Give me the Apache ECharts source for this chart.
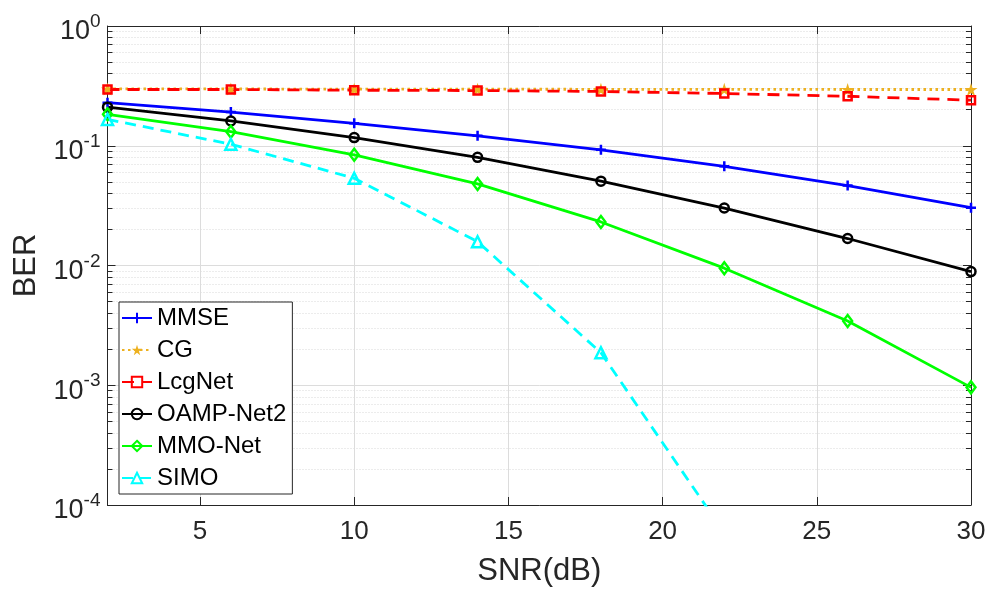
<!DOCTYPE html>
<html>
<head>
<meta charset="utf-8">
<script src="https://cdn.jsdelivr.net/npm/echarts@6/dist/echarts.min.js"></script>
<style>
  html, body { margin: 0; padding: 0; background: #ffffff; }
  #chart { width: 992px; height: 592px; }
</style>
</head>
<body>
<div id="chart"></div>
<script>
// SNR sweep (dB) and bit error rate of each detector
const snr = [2, 6, 10, 14, 18, 22, 26, 30];
const mmse = [0.229, 0.191, 0.154, 0.121, 0.0925, 0.0674, 0.0465, 0.0304];
const cg = [0.298, 0.298, 0.297, 0.297, 0.296, 0.296, 0.295, 0.295];
const lcgNet = [0.295, 0.295, 0.291, 0.289, 0.284, 0.273, 0.259, 0.240];
const oampNet2 = [0.210, 0.161, 0.117, 0.080, 0.0506, 0.0302, 0.0168, 0.0089];
const mmoNet = [0.183, 0.131, 0.084, 0.048, 0.0231, 0.0095, 0.00344, 0.00096];
const simo = [0.166, 0.103, 0.0535, 0.0158, 0.00187, 0.0000585];

const seriesNames = ['MMSE', 'CG', 'LcgNet', 'OAMP-Net2', 'MMO-Net', 'SIMO'];
const xTickStep = 5;

const FONT = 'Liberation Sans, Arial, Helvetica, sans-serif';
const AXIS_COLOR = '#262626';

function pairs(ys) {
  return ys.map((y, i) => [snr[i], y]);
}

const plusPath = 'path://M0,5L10,5M5,0L5,10';
const starPath = 'path://M50,0L61.8,36.2L100,36.2L69.1,58.8L80.9,95.1L50,72.6L19.1,95.1L30.9,58.8L0,36.2L38.2,36.2Z';

function lineSeries(name, ys, color, dash, symbol, symbolSize, filled) {
  return {
    name: name,
    type: 'line',
    data: pairs(ys),
    xAxisIndex: 0,
    yAxisIndex: 0,
    symbol: symbol,
    symbolSize: symbolSize,
    showAllSymbol: true,
    clip: true,
    lineStyle: { color: color, width: 2.8, type: dash },
    itemStyle: {
      color: filled ? color : 'rgba(0,0,0,0)',
      borderColor: color,
      borderWidth: filled ? 0 : 2.5
    },
    emphasis: { disabled: true },
    z: 3
  };
}

const chart = echarts.init(document.getElementById('chart'), null, { renderer: 'canvas' });

const option = {
  animation: false,
  backgroundColor: '#ffffff',
  textStyle: { fontFamily: FONT },
  grid: { left: 107.5, right: 21, top: 26, bottom: 83.5, containLabel: false },
  legend: {
    data: seriesNames,
    orient: 'vertical',
    left: 119,
    top: 302,
    itemWidth: 30,
    itemHeight: 13,
    itemGap: 8,
    padding: [4, 6, 4, 2],
    backgroundColor: '#ffffff',
    borderColor: AXIS_COLOR,
    borderWidth: 1,
    textStyle: { fontFamily: FONT, fontSize: 24, color: '#000000' }
  },
  xAxis: [
    {
      type: 'value',
      position: 'bottom',
      min: 2,
      max: 30,
      name: 'SNR(dB)',
      nameLocation: 'middle',
      nameGap: 51,
      nameTextStyle: { fontFamily: FONT, fontSize: 31, color: AXIS_COLOR },
      axisLine: { show: true, lineStyle: { color: AXIS_COLOR, width: 1 } },
      axisTick: { show: true, inside: true, length: 8, lineStyle: { color: AXIS_COLOR } },
      axisLabel: {
        margin: 14,
        fontFamily: FONT,
        fontSize: 26,
        color: AXIS_COLOR,
        formatter: v => (v % xTickStep === 0 ? String(v) : '')
      },
      splitLine: { show: true, lineStyle: { color: '#dcdcdc', width: 1 } }
    },
    {
      type: 'value',
      position: 'top',
      min: 2,
      max: 30,
      axisLine: { show: true, lineStyle: { color: AXIS_COLOR, width: 1 } },
      axisTick: { show: true, inside: true, length: 8, lineStyle: { color: AXIS_COLOR } },
      axisLabel: { show: false },
      splitLine: { show: false }
    }
  ],
  yAxis: [
    {
      type: 'log',
      logBase: 10,
      position: 'left',
      min: 1e-4,
      max: 1,
      name: 'BER',
      nameLocation: 'middle',
      nameGap: 66,
      nameTextStyle: { fontFamily: FONT, fontSize: 31, color: AXIS_COLOR },
      axisLine: { show: true, lineStyle: { color: AXIS_COLOR, width: 1 } },
      axisTick: { show: true, inside: true, length: 8, lineStyle: { color: AXIS_COLOR } },
      minorTick: { show: true, splitNumber: 9, length: 5, lineStyle: { color: AXIS_COLOR } },
      minorSplitLine: { show: true, lineStyle: { color: '#d8d8d8', width: 1, type: [1, 2] } },
      splitLine: { show: true, lineStyle: { color: '#dcdcdc', width: 1 } },
      axisLabel: {
        margin: 7,
        formatter: v => '{b|10}{s|' + Math.round(Math.log10(v)) + '}',
        rich: {
          b: { fontFamily: FONT, fontSize: 27, lineHeight: 27, color: AXIS_COLOR, padding: [12, 0, 0, 0] },
          s: { fontFamily: FONT, fontSize: 19, lineHeight: 21, color: AXIS_COLOR, verticalAlign: 'top' }
        }
      }
    },
    {
      type: 'log',
      logBase: 10,
      position: 'right',
      min: 1e-4,
      max: 1,
      axisLine: { show: true, lineStyle: { color: AXIS_COLOR, width: 1 } },
      axisTick: { show: true, inside: true, length: 8, lineStyle: { color: AXIS_COLOR } },
      minorTick: { show: true, splitNumber: 9, length: 5, lineStyle: { color: AXIS_COLOR } },
      axisLabel: { show: false },
      splitLine: { show: false }
    }
  ],
  series: [
    lineSeries('MMSE', mmse, '#0000ff', 'solid', plusPath, 10, false),
    lineSeries('CG', cg, '#edb120', [2.5, 3.5], starPath, 13, true),
    lineSeries('LcgNet', lcgNet, '#ff0000', [12, 8], 'rect', 8, false),
    lineSeries('OAMP-Net2', oampNet2, '#000000', 'solid', 'circle', 9, false),
    lineSeries('MMO-Net', mmoNet, '#00ff00', 'solid', 'diamond', [9, 12], false),
    lineSeries('SIMO', simo, '#00ffff', [11, 7], 'triangle', 11, false)
  ]
};

chart.setOption(option);
</script>
</body>
</html>
